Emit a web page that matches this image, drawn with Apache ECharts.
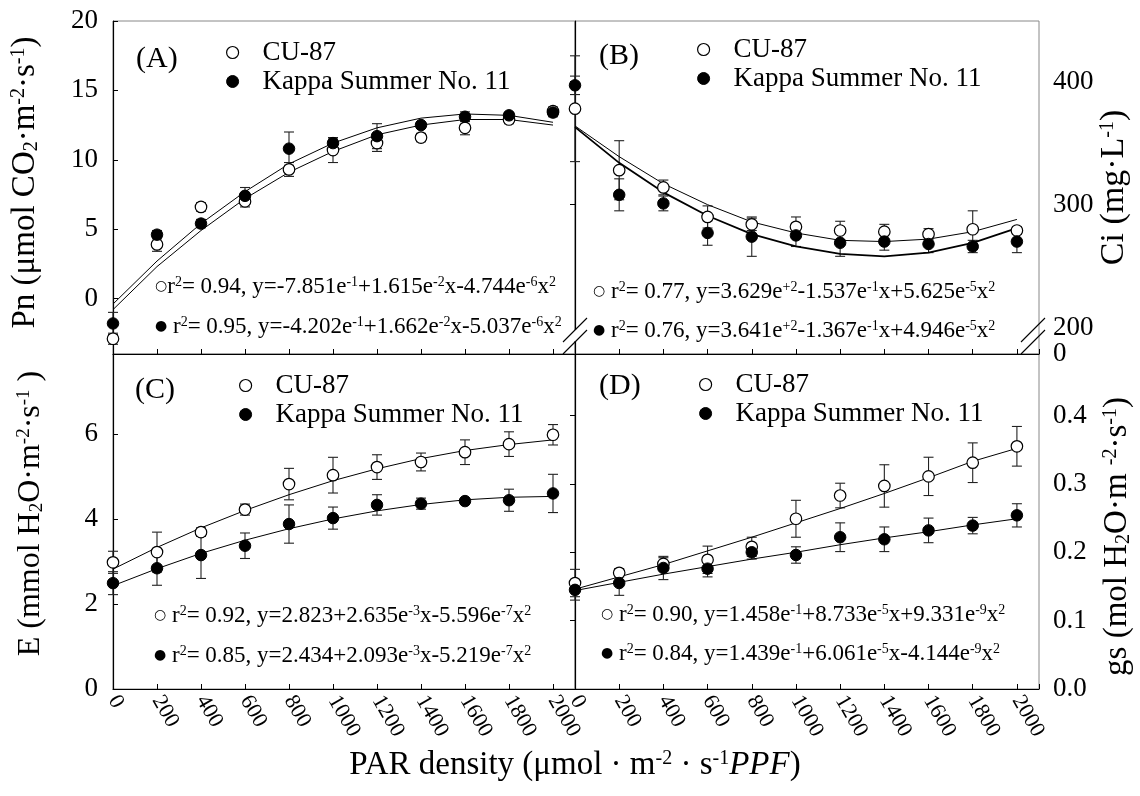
<!DOCTYPE html>
<html>
<head>
<meta charset="utf-8">
<script src="https://cdn.jsdelivr.net/npm/echarts@6/dist/echarts.min.js"></script>
<style>
html,body{margin:0;padding:0;background:#fff;}
#chart{width:1140px;height:796px;}
</style>
</head>
<body>
<div id="chart"></div>
<script>
// ---------------- data ----------------
const parX = [0, 200, 400, 600, 800, 1000, 1200, 1400, 1600, 1800, 2000];
const xTicks = [0, 200, 400, 600, 800, 1000, 1200, 1400, 1600, 1800, 2000];

// (A) Pn
const pnCU     = [-2.9, 3.9, 6.6, 7.0, 9.3, 10.7, 11.2, 11.6, 12.3, 12.9, 13.5];
const pnCUerr  = [0.4, 0.5, 0.3, 0.4, 0.5, 0.9, 0.6, 0.3, 0.5, 0.3, 0.3];
const pnKS     = [-1.8, 4.6, 5.4, 7.4, 10.8, 11.2, 11.7, 12.5, 13.1, 13.2, 13.4];
const pnKSerr  = [0.8, 0.3, 0.3, 0.6, 1.2, 0.3, 0.9, 0.15, 0.35, 0.2, 0.3];
const pnFitCU  = [-0.8, 2.3, 4.9, 7.2, 9.1, 10.6, 11.8, 12.5, 12.9, 12.9, 12.5];
const pnFitKS  = [-0.4, 2.7, 5.4, 7.7, 9.7, 11.2, 12.3, 13.0, 13.3, 13.2, 12.7];
const pnTicks  = [0, 5, 10, 15, 20];

// (B) Ci
const ciCU     = [378, 328, 314, 290, 284, 282, 279, 278, 276, 280, 279];
const ciCUerr  = [43, 24, 6, 9, 5, 8, 7.5, 6, 4.5, 15, 3];
const ciKS     = [397, 308, 301, 277, 274, 275, 269, 270, 268, 266, 270];
const ciKSerr  = [7.5, 13, 6, 10, 16, 9, 11, 7, 7, 5, 9];
const ciFitUp  = [364, 339, 317, 300, 286, 277, 271, 270, 272, 278, 288];
const ciFitLow = [363, 334, 310, 291, 276, 266, 260, 258, 261, 269, 281];
const ciTicks  = [300, 400];
const ciLabels = [200, 300, 400];
const ciFoot   = [178.6];   // foot of the broken axis, printed as "0"

// (C) E
const eCU      = [2.98, 3.22, 3.69, 4.22, 4.82, 5.03, 5.22, 5.34, 5.57, 5.76, 5.98];
const eCUerr   = [0.26, 0.47, 0.1, 0.13, 0.37, 0.42, 0.29, 0.21, 0.29, 0.29, 0.24];
const eKS      = [2.49, 2.84, 3.15, 3.37, 3.88, 4.02, 4.33, 4.36, 4.42, 4.44, 4.6];
const eKSerr   = [0.27, 0.4, 0.55, 0.3, 0.45, 0.26, 0.24, 0.13, 0.05, 0.26, 0.45];
const eFitCU   = [2.82, 3.33, 3.79, 4.2, 4.57, 4.9, 5.18, 5.42, 5.61, 5.75, 5.86];
const eFitKS   = [2.43, 2.83, 3.19, 3.5, 3.77, 4.0, 4.19, 4.34, 4.45, 4.51, 4.53];
const eTicks   = [0, 2, 4, 6];

// (D) gs
const gsCU     = [0.155, 0.170, 0.183, 0.189, 0.208, 0.249, 0.283, 0.297, 0.311, 0.331, 0.355];
const gsCUerr  = [0.02, 0.006, 0.009, 0.02, 0.014, 0.027, 0.018, 0.031, 0.028, 0.029, 0.029];
const gsKS     = [0.145, 0.155, 0.177, 0.176, 0.200, 0.196, 0.222, 0.219, 0.232, 0.239, 0.254];
const gsKSerr  = [0.015, 0.018, 0.017, 0.012, 0.01, 0.012, 0.021, 0.018, 0.018, 0.012, 0.017];
const gsFitCU  = [0.146, 0.164, 0.182, 0.202, 0.222, 0.243, 0.264, 0.286, 0.309, 0.333, 0.352];
const gsFitKS  = [0.144, 0.156, 0.168, 0.179, 0.190, 0.200, 0.211, 0.221, 0.230, 0.240, 0.249];
const gsTicks  = [0, 0.1, 0.2, 0.3, 0.4];

const seriesNames = ['CU-87', 'Kappa Summer No. 11'];

// ---------------- layout ----------------
const FONT = 'Liberation Serif';
const L = 113, MID = 575, R = 1039, T = 21, HM = 354, B = 689;

const chart = echarts.init(document.getElementById('chart'), null, {renderer: 'canvas'});

function errData(v, e) { return parX.map((x, i) => [x, v[i] - e[i], v[i] + e[i]]); }
function pts(v) { return parX.map((x, i) => [x, v[i]]); }

function errRender(params, api) {
  const x = api.value(0);
  const p1 = api.coord([x, api.value(1)]);
  const p2 = api.coord([x, api.value(2)]);
  const hw = 5, st = {stroke: '#222', lineWidth: 1.1};
  return {type: 'group', children: [
    {type: 'line', shape: {x1: p1[0], y1: p1[1], x2: p2[0], y2: p2[1]}, style: st},
    {type: 'line', shape: {x1: p1[0] - hw, y1: p1[1], x2: p1[0] + hw, y2: p1[1]}, style: st},
    {type: 'line', shape: {x1: p2[0] - hw, y1: p2[1], x2: p2[0] + hw, y2: p2[1]}, style: st}
  ]};
}

const openStyle = {color: '#fff', borderColor: '#000', borderWidth: 1.2, opacity: 1};
const fillStyle = {color: '#000', borderColor: '#000', borderWidth: 1, opacity: 1};

function panel(gi, cu, cuE, ks, ksE, fit1, fit2, w1, w2) {
  return [
    {type: 'custom', name: 'errCU' + gi, xAxisIndex: gi, yAxisIndex: gi, renderItem: errRender, data: errData(cu, cuE), z: 2, silent: true},
    {type: 'custom', name: 'errKS' + gi, xAxisIndex: gi, yAxisIndex: gi, renderItem: errRender, data: errData(ks, ksE), z: 2, silent: true},
    {type: 'line', name: 'fit1_' + gi, xAxisIndex: gi, yAxisIndex: gi, data: pts(fit1), showSymbol: false, symbol: 'none', lineStyle: {color: '#000', width: w1 || 1}, z: 3, silent: true},
    {type: 'line', name: 'fit2_' + gi, xAxisIndex: gi, yAxisIndex: gi, data: pts(fit2), showSymbol: false, symbol: 'none', lineStyle: {color: '#000', width: w2 || 1}, z: 3, silent: true},
    {type: 'scatter', name: seriesNames[0], xAxisIndex: gi, yAxisIndex: gi, data: pts(cu), symbol: 'circle', symbolSize: 11.5, itemStyle: openStyle, clip: false, z: 4},
    {type: 'scatter', name: seriesNames[1], xAxisIndex: gi, yAxisIndex: gi, data: pts(ks), symbol: 'circle', symbolSize: 11.5, itemStyle: fillStyle, clip: false, z: 5}
  ];
}

function xAx(gi, showLabels) {
  return {
    type: 'value', gridIndex: gi, min: 0, max: 2100, interval: 200,
    axisLine: {show: true, onZero: false, lineStyle: {color: '#000', width: 1.2}},
    axisTick: {show: true, inside: true, length: 5, lineStyle: {color: '#000'}},
    splitLine: {show: false},
    axisLabel: {show: showLabels, rotate: -60, margin: 8, fontFamily: FONT, fontSize: 22, color: '#000',
      hideOverlap: false, customValues: xTicks, formatter: v => String(v)}
  };
}

const tl = {fontFamily: FONT, fontSize: 27, color: '#000', hideOverlap: false};
function richName(size, pad) {
  return {
    fontFamily: FONT, fontSize: size, color: '#000', padding: pad || 0,
    rich: {
      t: {fontFamily: FONT, fontSize: size, color: '#000'},
      sup: {fontFamily: FONT, fontSize: Math.round(size * 0.6), color: '#000', verticalAlign: 'top'},
      sub: {fontFamily: FONT, fontSize: Math.round(size * 0.6), color: '#000', verticalAlign: 'bottom'},
      i: {fontFamily: FONT, fontSize: size, fontStyle: 'italic', color: '#000'}
    }
  };
}

const yAxes = [
  { // A
    type: 'value', gridIndex: 0, position: 'left', min: -4, max: 20,
    axisLine: {show: true, lineStyle: {color: '#000', width: 1.2}},
    axisTick: {show: true, inside: true, length: 5, customValues: pnTicks, lineStyle: {color: '#000'}},
    axisLabel: Object.assign({margin: 15, customValues: pnTicks}, tl),
    splitLine: {show: false},
    name: '{t|Pn (μmol CO}{sub|2}{t|·m}{sup|-2}{t|·s}{sup|-1}{t|)}',
    nameLocation: 'middle', nameRotate: 90, nameGap: 71, nameTextStyle: richName(33, [0, 0, 0, 10])
  },
  { // B
    type: 'value', gridIndex: 1, position: 'right', min: 178.6, max: 449.3,
    axisLine: {show: true, lineStyle: {color: '#000', width: 1.2}},
    axisTick: {show: true, inside: true, length: 5, customValues: ciTicks, lineStyle: {color: '#000'}},
    axisLabel: Object.assign({margin: 14, customValues: ciLabels, showMinLabel: true}, tl),
    splitLine: {show: false},
    name: '{t|Ci (mg·L}{sup|-1}{t|)}',
    nameLocation: 'middle', nameRotate: 90, nameGap: 58, nameTextStyle: richName(34)
  },
  { // C
    type: 'value', gridIndex: 2, position: 'left', min: 0, max: 7.88,
    axisLine: {show: true, lineStyle: {color: '#000', width: 1.2}},
    axisTick: {show: true, inside: true, length: 5, customValues: eTicks, lineStyle: {color: '#000'}},
    axisLabel: Object.assign({margin: 15, customValues: eTicks}, tl),
    splitLine: {show: false},
    name: '{t|E (mmol H}{sub|2}{t|O·m}{sup|-2}{t|·s}{sup|-1}{t| )}',
    nameLocation: 'middle', nameRotate: 90, nameGap: 66, nameTextStyle: richName(32, [0, 0, 0, 16])
  },
  { // D
    type: 'value', gridIndex: 3, position: 'right', min: 0, max: 0.49,
    axisLine: {show: true, lineStyle: {color: '#000', width: 1.2}},
    axisTick: {show: true, inside: true, length: 5, customValues: gsTicks, lineStyle: {color: '#000'}},
    axisLabel: Object.assign({margin: 14, customValues: gsTicks, formatter: v => v.toFixed(1)}, tl),
    splitLine: {show: false},
    name: '{t|gs (mol H}{sub|2}{t|O·m }{sup|-2}{t|·s}{sup|-1}{t|)}',
    nameLocation: 'middle', nameRotate: 90, nameGap: 62, nameTextStyle: richName(33, [0, 30, 0, 0])
  },
  { // B, foot of broken axis ("0")
    type: 'value', gridIndex: 1, position: 'right', min: 178.6, max: 449.3,
    axisLine: {show: false}, axisTick: {show: false}, splitLine: {show: false},
    axisLabel: Object.assign({margin: 14, customValues: ciFoot, showMinLabel: true, formatter: () => '0'}, tl)
  }
];

function legendAt(left, top) {
  return {
    left: left, top: top, orient: 'vertical', selectedMode: false, padding: 0,
    itemWidth: 12, itemHeight: 12, itemGap: 2,
    textStyle: {fontFamily: FONT, fontSize: 27, color: '#000', lineHeight: 26, padding: [0, 0, 0, 19]},
    data: [
      {name: seriesNames[0], icon: 'circle', itemStyle: {color: '#fff', borderColor: '#000', borderWidth: 1.2, opacity: 1}},
      {name: seriesNames[1], icon: 'circle', itemStyle: {color: '#000', borderColor: '#000', borderWidth: 1, opacity: 1}}
    ]
  };
}

const eqRich = {
  t: {fontFamily: FONT, fontSize: 23, color: '#000'},
  sup: {fontFamily: FONT, fontSize: 14, color: '#000', verticalAlign: 'top'},
  c: {fontFamily: 'DejaVu Sans', fontSize: 14, color: '#000'}
};
function eqText(x, yc, circle, txt) {
  return {type: 'text', left: x, top: yc - 13, z: 10, silent: true,
    style: {text: '{c|' + circle + '}' + txt, rich: eqRich, fill: '#000'}};
}
function panelLabel(x, yc, s) {
  return {type: 'text', left: x, top: yc - 17, z: 10, silent: true,
    style: {text: s, fontFamily: FONT, fontSize: 30, fill: '#000'}};
}

const eqs = [
  eqText(155, 288, '○', '{t|r}{sup|2}{t|= 0.94, y=-7.851e}{sup|-1}{t|+1.615e}{sup|-2}{t|x-4.744e}{sup|-6}{t|x}{sup|2}'),
  eqText(155, 328, '●', '{t| r}{sup|2}{t|= 0.95, y=-4.202e}{sup|-1}{t|+1.662e}{sup|-2}{t|x-5.037e}{sup|-6}{t|x}{sup|2}'),
  eqText(593, 293, '○', '{t| r}{sup|2}{t|= 0.77, y=3.629e}{sup|+2}{t|-1.537e}{sup|-1}{t|x+5.625e}{sup|-5}{t|x}{sup|2}'),
  eqText(593, 332, '●', '{t| r}{sup|2}{t|= 0.76, y=3.641e}{sup|+2}{t|-1.367e}{sup|-1}{t|x+4.946e}{sup|-5}{t|x}{sup|2}'),
  eqText(154, 617, '○', '{t| r}{sup|2}{t|= 0.92, y=2.823+2.635e}{sup|-3}{t|x-5.596e}{sup|-7}{t|x}{sup|2}'),
  eqText(154, 657, '●', '{t| r}{sup|2}{t|= 0.85, y=2.434+2.093e}{sup|-3}{t|x-5.219e}{sup|-7}{t|x}{sup|2}'),
  eqText(601, 616, '○', '{t| r}{sup|2}{t|= 0.90, y=1.458e}{sup|-1}{t|+8.733e}{sup|-5}{t|x+9.331e}{sup|-9}{t|x}{sup|2}'),
  eqText(601, 655, '●', '{t| r}{sup|2}{t|= 0.84, y=1.439e}{sup|-1}{t|+6.061e}{sup|-5}{t|x-4.144e}{sup|-9}{t|x}{sup|2}')
];

function breakMark(cx) {
  const st = {stroke: '#000', lineWidth: 1.1};
  return [
    {type: 'rect', shape: {x: cx - 2, y: HM - 24, width: 4, height: 11}, style: {fill: '#fff'}, z: 20, silent: true},
    {type: 'line', shape: {x1: cx - 12, y1: HM, x2: cx + 12, y2: HM - 24}, style: st, z: 21, silent: true},
    {type: 'line', shape: {x1: cx - 12, y1: HM - 12, x2: cx + 12, y2: HM - 36}, style: st, z: 21, silent: true}
  ];
}

const option = {
  backgroundColor: '#fff',
  animation: false,
  grid: [
    {left: L, top: T, width: MID - L, height: HM - T, show: true, borderColor: '#888', borderWidth: 1, backgroundColor: 'transparent'},
    {left: MID, top: T, width: R - MID, height: HM - T, show: true, borderColor: '#888', borderWidth: 1, backgroundColor: 'transparent'},
    {left: L, top: HM, width: MID - L, height: B - HM, show: true, borderColor: '#888', borderWidth: 1, backgroundColor: 'transparent'},
    {left: MID, top: HM, width: R - MID, height: B - HM, show: true, borderColor: '#888', borderWidth: 1, backgroundColor: 'transparent'}
  ],
  xAxis: [
    xAx(0, false), xAx(1, false),
    Object.assign(xAx(2, true), {
      name: '{t|PAR density (μmol · m}{sup|-2}{t| · s}{sup|-1}{i|PPF}{t|)}',
      nameLocation: 'middle', nameGap: 60,
      nameTextStyle: richName(33, [0, 0, 0, 462])
    }),
    xAx(3, true)
  ],
  yAxis: yAxes,
  legend: [legendAt(226, 39), legendAt(697, 36), legendAt(239, 372), legendAt(699, 371)],
  series: [].concat(
    panel(0, pnCU, pnCUerr, pnKS, pnKSerr, pnFitCU, pnFitKS, 1, 1),
    panel(1, ciCU, ciCUerr, ciKS, ciKSerr, ciFitUp, ciFitLow, 1, 1.8),
    panel(2, eCU, eCUerr, eKS, eKSerr, eFitCU, eFitKS, 1, 1),
    panel(3, gsCU, gsCUerr, gsKS, gsKSerr, gsFitCU, gsFitKS, 1, 1)
  ),
  graphic: [].concat(
    [panelLabel(136, 61, '(A)'), panelLabel(599, 58, '(B)'), panelLabel(135, 392, '(C)'), panelLabel(599, 388, '(D)')],
    eqs,
    breakMark(MID), breakMark(R - 6)
  )
};

chart.setOption(option);
</script>
</body>
</html>
